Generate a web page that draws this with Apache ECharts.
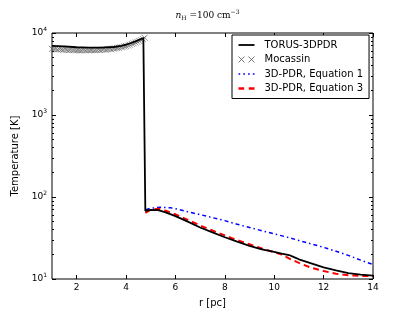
<!DOCTYPE html>
<html>
<head>
<meta charset="utf-8">
<script src="https://cdn.jsdelivr.net/npm/echarts@6/dist/echarts.min.js"></script>
<style>html,body{margin:0;padding:0;background:#fff;}#c{width:415px;height:313px;}</style>
</head>
<body>
<div id="c"></div>
<script>
// ---- data ----
var xTicks = [2, 4, 6, 8, 10, 12, 14];
var yTicks = [10, 100, 1000, 10000];
var yMinorTicks = [20,30,40,50,60,70,80,90,200,300,400,500,600,700,800,900,2000,3000,4000,5000,6000,7000,8000,9000];

var torusX = [1.0,1.5,2.0,2.5,3.0,3.5,3.8,4.0,4.2,4.4,4.6,4.7,4.78,4.78,5.0,5.3,5.6,6.0,6.5,7.0,7.5,8.0,8.5,9.0,9.5,10.0,10.3,10.6,10.8,11.0,11.5,12.0,12.5,13.0,13.5,14.0];
var torusY = [6950,6850,6700,6650,6650,6750,6950,7200,7550,7950,8450,8700,8300,68,69.5,69,65,58.5,50,42.5,37,32.3,28.5,25.4,23,21.4,20.4,19.6,18.5,17.4,15.5,13.9,12.7,11.8,11.3,11.0];

var mocX = [1.00,1.08,1.15,1.23,1.30,1.38,1.45,1.53,1.60,1.68,1.75,1.83,1.90,1.98,2.05,2.13,2.20,2.28,2.35,2.43,2.50,2.58,2.65,2.73,2.80,2.88,2.95,3.03,3.10,3.18,3.25,3.33,3.40,3.48,3.55,3.63,3.70,3.78,3.85,3.93,4.00,4.08,4.15,4.23,4.30,4.38,4.45,4.53,4.60,4.68,4.75];
var mocY = [6400,6350,6400,6300,6350,6300,6250,6300,6250,6200,6250,6200,6200,6150,6200,6150,6150,6200,6150,6200,6150,6200,6200,6150,6200,6250,6200,6250,6300,6250,6350,6400,6350,6450,6500,6550,6600,6700,6750,6850,6950,7050,7200,7350,7500,7650,7850,8000,8200,8450,8750];

var eq1X = [4.8,5.0,5.4,5.8,6.0,6.5,7.0,7.5,8.0,8.5,9.0,9.5,10.0,10.5,11.0,11.5,12.0,12.5,13.0,13.5,14.0];
var eq1Y = [70,73,75,74,72,66,61,56,51.5,46.5,42.5,38.8,35.5,32.5,29.5,26.8,24.3,21.8,19.4,17,15];

var eq3X = [4.78,5.0,5.3,5.6,6.0,6.5,7.0,7.5,8.0,8.5,9.0,9.5,10.0,10.3,10.6,11.0,11.5,12.0,12.5,13.0,13.5,14.0];
var eq3Y = [64,70,72,68,61.5,52.5,45,39,34,29.8,26.5,23.6,21.2,19.8,17.8,15.7,13.7,12.5,11.6,11.1,10.9,10.9];

function zip(a, b) { return a.map(function (v, i) { return [v, b[i]]; }); }

var chart = echarts.init(document.getElementById('c'), null, {renderer: 'canvas'});
var SANS = 'DejaVu Sans';
var crossPath = 'path://M0,0L10,10M10,0L0,10';
var legendCross = 'path://M0,0L6,6M6,0L0,6M10,0L16,6M16,0L10,6';
var iconSolid = 'path://M0,0H16V1.8H0Z';
var iconDash = 'path://M0,0H5V2H0ZM9,0H14V2H9Z';
var iconDashDot = 'path://M0,0H1.6V1.4H0ZM4.6,0H6.2V1.4H4.6ZM9.2,0H10.8V1.4H9.2ZM13.8,0H15.4V1.4H13.8Z';

function yLabelFmt(v) {
  var e = Math.round(Math.log(v) / Math.LN10);
  return '{a|10}{b|' + e + '}';
}
var yRich = {
  a: {fontFamily: SANS, fontSize: 9, color: '#000'},
  b: {fontFamily: SANS, fontSize: 6, color: '#000', verticalAlign: 'bottom', padding: [0, 0, 7, 0]}
};

function yAx(pos, ticks, len, labels, name) {
  return {
    type: 'log', logBase: 10, min: 10, max: 10000, position: pos,
    name: name || '', nameLocation: 'middle', nameGap: 25,
    nameTextStyle: {fontFamily: SANS, fontSize: 10, color: '#000'},
    axisLine: {show: false},
    splitLine: {show: false},
    axisTick: {show: true, inside: true, length: len, customValues: ticks, lineStyle: {color: '#000', width: 1}},
    axisLabel: labels ? {show: true, customValues: ticks, formatter: yLabelFmt, rich: yRich, margin: 5} : {show: false},
    minorTick: {show: false}
  };
}

chart.setOption({
  animation: false,
  backgroundColor: '#fff',
  title: {
    text: '{i|n}{s|H}{t| =100 cm}{p|\u22123}',
    left: 'center', top: 4,
    textStyle: {
      fontWeight: 'normal',
      rich: {
        i: {fontFamily: 'DejaVu Serif', fontStyle: 'italic', fontWeight: 'normal', fontSize: 9, color: '#000'},
        s: {fontFamily: 'DejaVu Serif', fontWeight: 'normal', fontSize: 6, color: '#000', verticalAlign: 'top', padding: [6, 0, 0, 0]},
        t: {fontFamily: 'DejaVu Serif', fontWeight: 'normal', fontSize: 9, color: '#000'},
        p: {fontFamily: 'DejaVu Serif', fontWeight: 'normal', fontSize: 6, color: '#000', verticalAlign: 'bottom', padding: [0, 0, 7, 0]}
      }
    }
  },
  grid: {left: 52, right: 42, top: 33, bottom: 33, show: true, borderColor: '#000', borderWidth: 1, backgroundColor: 'transparent'},
  legend: {
    orient: 'vertical', left: 232, top: 35,
    backgroundColor: '#fff', borderColor: '#000', borderWidth: 1, borderRadius: 0,
    padding: [5, 6, 5, 6], itemGap: 4.5, itemWidth: 16, itemHeight: 10,
    textStyle: {fontFamily: SANS, fontSize: 10, color: '#000', padding: [0, 0, 0, 5]},
    data: [
      {name: 'TORUS-3DPDR', icon: iconSolid, itemStyle: {color: '#000', borderWidth: 0}},
      {name: 'Mocassin', icon: legendCross, itemStyle: {color: 'transparent', borderColor: '#555', borderWidth: 1}},
      {name: '3D-PDR, Equation 1', icon: iconDashDot, itemStyle: {color: '#0000ff', borderWidth: 0}},
      {name: '3D-PDR, Equation 3', icon: iconDash, itemStyle: {color: '#ff0000', borderWidth: 0}}
    ]
  },
  xAxis: [{
    type: 'value', min: 1, max: 14, position: 'bottom',
    name: 'r [pc]', nameLocation: 'middle', nameGap: 19,
    nameTextStyle: {fontFamily: SANS, fontSize: 10, color: '#000'},
    axisLine: {show: false}, splitLine: {show: false},
    axisTick: {show: true, inside: true, length: 4, customValues: xTicks, lineStyle: {color: '#000'}},
    axisLabel: {show: true, customValues: xTicks, fontFamily: SANS, fontSize: 9, color: '#000', margin: 4}
  }, {
    type: 'value', min: 1, max: 14, position: 'top',
    axisLine: {show: false}, splitLine: {show: false},
    axisTick: {show: true, inside: true, length: 4, customValues: xTicks, lineStyle: {color: '#000'}},
    axisLabel: {show: false}
  }],
  yAxis: [
    yAx('left', yTicks, 4, true, 'Temperature [K]'),
    yAx('left', yMinorTicks, 2, false),
    yAx('right', yTicks, 4, false),
    yAx('right', yMinorTicks, 2, false)
  ],
  series: [
    {
      name: 'TORUS-3DPDR', type: 'line', data: zip(torusX, torusY), z: 4,
      showSymbol: false, symbol: 'none',
      lineStyle: {color: '#000', width: 1.8}, itemStyle: {color: '#000'}
    },
    {
      name: 'Mocassin', type: 'scatter', data: zip(mocX, mocY), z: 3,
      symbol: crossPath, symbolSize: 6,
      itemStyle: {color: 'transparent', borderColor: '#555', borderWidth: 0.8}
    },
    {
      name: '3D-PDR, Equation 1', type: 'line', data: zip(eq1X, eq1Y), z: 2,
      showSymbol: false, symbol: 'none',
      lineStyle: {color: '#0000ff', width: 1.5, type: [4, 3, 1.5, 3]}, itemStyle: {color: '#0000ff'}
    },
    {
      name: '3D-PDR, Equation 3', type: 'line', data: zip(eq3X, eq3Y), z: 3,
      showSymbol: false, symbol: 'none',
      lineStyle: {color: '#ff0000', width: 2, type: [6, 4]}, itemStyle: {color: '#ff0000'}
    }
  ]
});
</script>
</body>
</html>
